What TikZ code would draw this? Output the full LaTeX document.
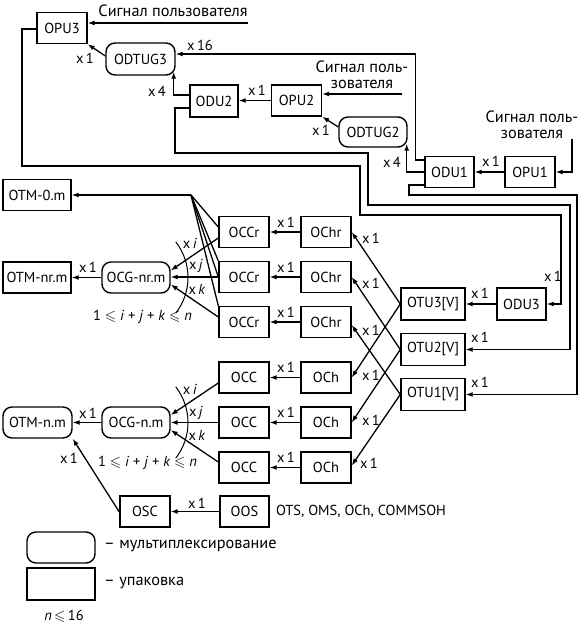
\documentclass[tikz,border=0pt]{standalone}
\usepackage{fontspec}
\usepackage{amssymb}
\setmainfont{PT Sans}
\usetikzlibrary{arrows.meta}
\newcommand\lblfont{\fontsize{14.5}{16}\selectfont}
\newcommand\cyrfont{\fontsize{16.3}{16}\selectfont}
\tikzset{
  box/.style={draw, line width=1.4pt, minimum width=50pt, minimum height=31pt, inner sep=1pt, font=\lblfont},
  mux/.style={box, rounded corners=9pt},
  ln/.style={line width=1.3pt},
  arr/.style={ln, -{Latex[length=7pt,width=5pt]}},
  lab/.style={font=\lblfont, inner sep=0pt},
  cyr/.style={font=\cyrfont, inner sep=0pt},
}
\begin{document}
\begin{tikzpicture}[x=1pt,y=-1pt]
\useasboundingbox (0,0) rectangle (584,626);
% top part
\node[box] (OPU3) at (62,28) {OPU3};
\node[mux, minimum width=69pt, minimum height=32pt] (ODTUG3) at (140.5,59) {ODTUG3};
\node[box, minimum width=48pt, minimum height=32pt] (ODU2) at (214,101) {ODU2};
\node[box] (OPU2) at (296.5,100.5) {OPU2};
\node[mux, minimum width=68pt, minimum height=30pt] (ODTUG2) at (373,132) {ODTUG2};
\node[box, minimum width=49pt] (ODU1) at (449.5,172) {ODU1};
\node[box] (OPU1) at (530,172) {OPU1};
% reduced
\node[box, minimum width=68pt] (OTM0) at (37,195) {OTM-0.m};
\node[box] (OCCr1) at (244,232) {OCCr};
\node[box] (OCCr2) at (244,277) {OCCr};
\node[box] (OCCr3) at (244,322) {OCCr};
\node[box] (OChr1) at (326,232) {OChr};
\node[box] (OChr2) at (326,277) {OChr};
\node[box] (OChr3) at (326,322) {OChr};
\node[mux, minimum width=68pt] (OCGnr) at (136,277.5) {OCG-nr.m};
\node[box, minimum width=68pt] (OTMnr) at (37,277.5) {OTM-nr.m};
% OTU
\node[box, minimum width=64pt, minimum height=32pt] (OTU3) at (433,304) {OTU3[V]};
\node[box, minimum width=49pt, minimum height=32pt] (ODU3) at (521.5,304) {ODU3};
\node[box, minimum width=64pt, minimum height=32pt] (OTU2) at (433,349.5) {OTU2[V]};
\node[box, minimum width=64pt, minimum height=32pt] (OTU1) at (433,394.5) {OTU1[V]};
% full
\node[box] (OCC1) at (244,377.5) {OCC};
\node[box] (OCC2) at (244,422.5) {OCC};
\node[box] (OCC3) at (244,467.5) {OCC};
\node[box] (Och1) at (326,377.5) {OCh};
\node[box] (Och2) at (326,422.5) {OCh};
\node[box] (Och3) at (326,467.5) {OCh};
\node[mux, minimum width=68pt] (OCGn) at (136,422.5) {OCG-n.m};
\node[mux, minimum width=69pt] (OTMn) at (37.5,422.5) {OTM-n.m};
\node[box] (OSC) at (145,511.5) {OSC};
\node[box, minimum width=49pt] (OOS) at (244.5,511.5) {OOS};
\node[lab, anchor=west] (otsl) at (276,511) {OTS, OMS, OCh, COMMSOH};
% legend
\node[mux, minimum width=68pt] (legm) at (61,547.5) {};
\node[box, minimum width=68pt, minimum height=32pt] (legp) at (61,584) {};
\node[cyr, anchor=west] (legmt) at (104,546) {– мультиплексирование};
\node[cyr, anchor=west] (legpt) at (104,583) {– упаковка};
\node[lab] (nle) at (64,616) {\textit{n}\,$\leqslant$\,16};
% signals
\node[cyr] (s3) at (173,11) {Сигнал пользователя};
\node[cyr, align=center] (s2) at (362,75) {Сигнал поль-\\зователя};
\node[cyr, align=center] (s1) at (532,125) {Сигнал поль-\\зователя};
\coordinate (s3e) at (248,23);
\coordinate (s2e) at (402,94);
\coordinate (s1e) at (572,139);
\draw[arr] (s3e) -- (s3e -| OPU3.east);
\draw[arr] (s2e) -- (s2e -| OPU2.east);
\draw[arr] (s1e) |- (OPU1.east);
% top connectors
\draw[arr] ([yshift=3pt]ODTUG3.west) -- (OPU3.south east);
\draw[arr] ([yshift=12pt]ODU1.west) -- ++(-9,0) |- ([yshift=5pt]ODTUG3.east);
\draw[arr] ([yshift=6pt]ODU2.west) -| ([xshift=-2pt,yshift=4pt]ODTUG3.south east);
\draw[arr] (OPU2.west) -- (OPU2.west -| ODU2.east);
\draw[arr] ([yshift=5pt]ODTUG2.west) -- (OPU2.south east);
\draw[arr] (ODU1.west) -| ([xshift=-1pt,yshift=4pt]ODTUG2.south east);
\draw[arr] (OPU1) -- (ODU1);
% long routes
\draw[arr] ([yshift=-1pt]OPU3.west) -| (22,166) -| (360,215) -| (561,304) -- (ODU3.east);
\draw[arr] ([yshift=-7pt]ODU2.west) -| (175,153) -| (368,205) -| (570,349.5) -- (OTU2.east);
\draw[arr] ([yshift=-13pt]ODU1.west) -| (409,195) -| (577,394.5) -- (OTU1.east);
\draw[arr] (ODU3) -- (OTU3);
% OTU fan-out
\draw[arr] (OTU3.west) -- (OChr1.east);
\draw[arr] (OTU3.west) -- (Och1.east);
\draw[arr] (OTU2.west) -- (OChr2.east);
\draw[arr] (OTU2.west) -- (Och2.east);
\draw[arr] (OTU1.west) -- ([yshift=-3pt]OChr3.east);
\draw[arr] (OTU1.west) -- ([yshift=2pt]Och3.east);
% OChr -> OCCr, OCh -> OCC
\draw[arr] (OChr1) -- (OCCr1);
\draw[arr] (OChr2) -- (OCCr2);
\draw[arr] (OChr3) -- (OCCr3);
\draw[arr] (Och1) -- (OCC1);
\draw[arr] (Och2) -- (OCC2);
\draw[arr] (Och3) -- (OCC3);
% into OCG
\draw[arr] ([yshift=-6pt]OCCr1.west) -- ([yshift=7pt]OCGnr.east);
\draw[arr] (OCCr2.west) -- (OCCr2.west -| OCGnr.east);
\draw[arr] ([yshift=5pt]OCCr3.west) -- ([yshift=-7pt]OCGnr.east);
\draw[arr] ([yshift=-5.5pt]OCC1.west) -- ([yshift=7.5pt]OCGn.east);
\draw[arr] (OCC2.west) -- (OCC2.west -| OCGn.east);
\draw[arr] ([yshift=5.5pt]OCC3.west) -- ([yshift=-7.5pt]OCGn.east);
\draw[arr] (OCGnr) -- (OTMnr);
\draw[arr] (OCGn) -- (OTMn);
\draw[arr] (OOS) -- (OSC);
\draw[arr] ([yshift=-0.5pt]OSC.west) -- (OTMn.south east);
% OTM-0 fan
\coordinate (apex) at (191,195);
\draw[arr] (apex) -- (OTM0.east);
\draw[ln] (apex) -- ([yshift=5pt]OCCr1.west);
\draw[ln] (apex) -- (OCCr2.north west);
\draw[ln] (apex) -- (OCCr2.west);
\draw[ln] (apex) -- (OCCr3.north west);
% arcs
\draw[ln, line width=1pt] (175.7,241.8) arc[start angle=38, end angle=-38, radius=58pt];
\draw[ln, line width=1pt] (175.7,386.8) arc[start angle=38, end angle=-38, radius=58pt];
% labels
\node[lab] (l1) at (85,58) {x\,1};
\node[lab] (l2) at (200,45) {x\,16};
\node[lab] (l3) at (157,91) {x\,4};
\node[lab] (l4) at (257,90) {x\,1};
\node[lab] (l5) at (321,130) {x\,1};
\node[lab] (l6) at (392,162) {x\,4};
\node[lab] (l7) at (491,161) {x\,1};
\node[lab] (l8) at (286,222) {x\,1};
\node[lab] (l9) at (286,267) {x\,1};
\node[lab] (l10) at (286,312) {x\,1};
\node[lab] (l11) at (371,238) {x\,1};
\node[lab] (l12) at (371,283) {x\,1};
\node[lab] (l13) at (371,330) {x\,1};
\node[lab] (l14) at (371,375) {x\,1};
\node[lab] (l15) at (371,420) {x\,1};
\node[lab] (l16) at (369,463) {x\,1};
\node[lab] (l17) at (480,293) {x\,1};
\node[lab] (l18) at (553,276) {x\,1};
\node[lab] (l19) at (480,337) {x\,1};
\node[lab] (l20) at (480,382) {x\,1};
\node[lab] (l21) at (88,267) {x\,1};
\node[lab] (l22) at (88,413) {x\,1};
\node[lab] (l23) at (286,367) {x\,1};
\node[lab] (l24) at (286,412) {x\,1};
\node[lab] (l25) at (286,457) {x\,1};
\node[lab] (l26) at (197,503) {x\,1};
\node[lab] (l27) at (69,458) {x\,1};
\node[lab] (xi1) at (190,243) {x\,\textit{i}};
\node[lab] (xj1) at (196,266) {x\,\textit{j}};
\node[lab] (xk1) at (197,289) {x\,\textit{k}};
\node[lab] (xi2) at (190,389) {x\,\textit{i}};
\node[lab] (xj2) at (196,413) {x\,\textit{j}};
\node[lab] (xk2) at (197,435) {x\,\textit{k}};
\node[lab] (ineq1) at (142.5,316.5) {1 $\leqslant$ \textit{i} + \textit{j} + \textit{k} $\leqslant$ \textit{n}};
\node[lab] (ineq2) at (147.5,463) {1 $\leqslant$ \textit{i} + \textit{j} + \textit{k} $\leqslant$ \textit{n}};
\end{tikzpicture}
\end{document}
